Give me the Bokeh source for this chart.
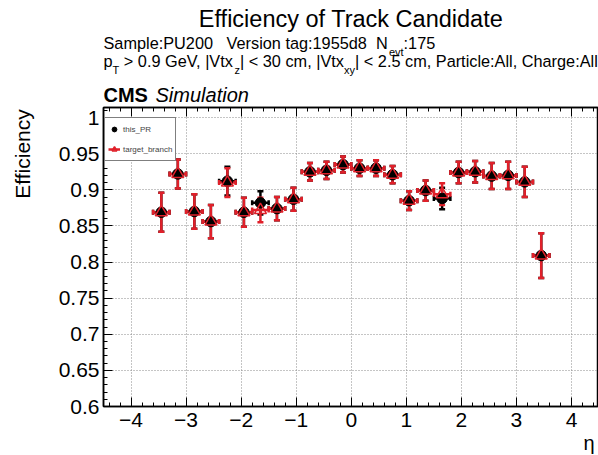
import math
from bokeh.plotting import figure
from bokeh.layouts import column, row
from bokeh.models import (Range1d, FixedTicker, CustomJSTickFormatter, LinearAxis,
                          Label, Legend, LegendItem, ColumnDataSource, Title)
from bokeh.embed import file_html
from bokeh.resources import INLINE

# ---------------- data ----------------
eta = [-3.45, -3.15, -2.85, -2.55, -2.25, -1.95, -1.65, -1.35, -1.05, -0.75, -0.45, -0.15,
       0.15, 0.45, 0.75, 1.05, 1.35, 1.65, 1.95, 2.25, 2.55, 2.85, 3.15, 3.45]
eta_half_bin = 0.15
this_pr_eff = [0.869, 0.922, 0.870, 0.856, 0.912, 0.869, 0.882, 0.874, 0.887, 0.925, 0.927, 0.935,
               0.930, 0.930, 0.921, 0.885, 0.899, 0.888, 0.924, 0.925, 0.919, 0.920, 0.911, 0.809]
this_pr_err = [0.027, 0.020, 0.024, 0.023, 0.020, 0.020, 0.016, 0.016, 0.016, 0.012, 0.012, 0.011,
               0.011, 0.011, 0.012, 0.013, 0.014, 0.015, 0.015, 0.015, 0.018, 0.019, 0.021, 0.031]
target_eff = [0.869, 0.922, 0.870, 0.856, 0.910, 0.869, 0.872, 0.874, 0.887, 0.925, 0.927, 0.935,
              0.930, 0.930, 0.921, 0.885, 0.899, 0.894, 0.924, 0.925, 0.919, 0.920, 0.911, 0.809]
target_err = [0.027, 0.020, 0.024, 0.023, 0.020, 0.020, 0.017, 0.016, 0.016, 0.012, 0.012, 0.011,
              0.011, 0.011, 0.012, 0.013, 0.014, 0.015, 0.015, 0.015, 0.018, 0.019, 0.021, 0.031]
x_tick_values = [-4, -3, -2, -1, 0, 1, 2, 3, 4]
y_tick_values = [0.6, 0.65, 0.7, 0.75, 0.8, 0.85, 0.9, 0.95, 1.0]
series_labels = ["this_PR", "target_branch"]

NB = "\u00a0"
title_text = "Efficiency of Track Candidate"
y_title = "Efficiency"
x_title = "\u03b7"

RED = "#e0202a"
FONT = "Liberation Sans"

# ---------------- layout (page pixels) ----------------
PAGE_W = 598
HEAD_H = 105            # header strip height
STRIP_W = 40            # strip holding the y title
FL, FR, FT, FB = 103, 598, 107, 406
MAIN_H = 455 - HEAD_H   # main figure reaches the page bottom
XS, XE = -4.5, 4.49
YS, YE = 0.6, 1.014
BASE_SHIFT = {"alphabetic": 0.31, "middle": 0.0}


def pixel_fig(w, h):
    f = figure(width=w, height=h, output_backend="svg", toolbar_location=None,
               x_range=Range1d(0, w), y_range=Range1d(h, 0),
               x_axis_type=None, y_axis_type=None,
               min_border=0, min_border_left=0, min_border_right=0,
               min_border_top=0, min_border_bottom=0)
    f.grid.visible = False
    f.outline_line_color = None
    f.background_fill_color = "white"
    f.border_fill_color = "white"
    return f


def put(f, px, py, text, size, style="normal", align="left", baseline="alphabetic", angle=0.0):
    sh = BASE_SHIFT[baseline] * size
    if angle == 0.0:
        py = py - sh
    f.add_layout(Label(x=px, y=py, text=text, text_font=FONT, text_font_size=f"{size}px",
                       text_font_style=style, text_align=align, text_baseline=baseline,
                       angle=angle, text_color="black"))


# ---------------- header ----------------
AW = {' ': 278, NB: 278, '|': 260, ':': 278, ',': 278, '.': 278, '<': 584, '>': 584, '_': 556,
      'A': 667, 'B': 667, 'C': 722, 'D': 722, 'E': 667, 'F': 611, 'G': 778, 'H': 722, 'I': 278,
      'M': 833, 'N': 722, 'P': 667, 'S': 667, 'T': 611, 'U': 722, 'V': 667,
      'a': 556, 'b': 556, 'c': 500, 'd': 556, 'e': 556, 'f': 278, 'g': 556, 'h': 556, 'i': 222,
      'k': 500, 'l': 222, 'm': 833, 'n': 556, 'o': 556, 'p': 556, 'r': 333, 's': 500, 't': 278,
      'u': 556, 'v': 500, 'x': 500, 'y': 500, 'z': 500}


def tw(s, size):
    return sum(AW.get(c, 556) for c in s) * size / 1000.0


def rich(f, px, py, pieces, size, sub_size, sub_drop):
    x = px
    for txt, sub, gap in pieces:
        x += gap * size / 1000.0
        if sub:
            put(f, x, py + sub_drop, txt, sub_size)
            x += tw(txt, sub_size)
        else:
            put(f, x, py, txt, size)
            x += tw(txt, size)


head = pixel_fig(PAGE_W, HEAD_H)
put(head, (FL + FR) / 2, 26, title_text, 23.5, align="center")
line2 = [("Sample:PU200" + NB * 3 + "Version" + NB + "tag:1955d8" + NB * 2 + "N", False, 0),
         ("evt", True, 0), (":175", False, 0)]
line3 = [("p", False, 0), ("T", True, 0), (">" + NB + "0.9 GeV, |Vtx", False, 278), ("z", True, 0),
         ("| < 30 cm, |Vtx", False, 0), ("xy", True, 0),
         ("| < 2.5 cm, Particle:All, Charge:All", False, 0)]
rich(head, FL, 47.5, line2, 16.3, 11, 7)
rich(head, FL, 66, line3, 16.3, 11, 7)
put(head, FL, 101, "CMS", 20, style="bold")
put(head, FL + 52, 101, "Simulation", 20, style="italic")

# ---------------- y title strip ----------------
strip = pixel_fig(STRIP_W, MAIN_H)
put(strip, 22, FT - HEAD_H, y_title, 21, align="right", baseline="middle", angle=math.pi / 2)

# ---------------- main plot ----------------
p = figure(width=PAGE_W - STRIP_W, height=MAIN_H, output_backend="svg", toolbar_location=None,
           x_range=Range1d(XS, XE), y_range=Range1d(YS, YE),
           min_border_left=FL - STRIP_W, min_border_right=0, min_border_top=FT - HEAD_H,
           min_border_bottom=455 - FB)
p.background_fill_color = "white"
p.border_fill_color = "white"
p.outline_line_color = "black"
p.outline_line_width = 1.5

fmt = CustomJSTickFormatter(code="var s = parseFloat(tick.toFixed(3)).toString(); return s.replace('-', '\\u2212');")
x_minor = [round(-4.4 + 0.2 * k, 2) for k in range(45)]
y_minor = [round(0.6 + 0.01 * k, 3) for k in range(42)]
xt = FixedTicker(ticks=x_tick_values, minor_ticks=x_minor)
yt = FixedTicker(ticks=y_tick_values, minor_ticks=y_minor)

for ax, t in ((p.xaxis[0], xt), (p.yaxis[0], yt)):
    ax.ticker = t
    ax.formatter = fmt
    ax.axis_line_color = "black"
    ax.axis_line_width = 1.5
    ax.major_tick_in = 9
    ax.major_tick_out = 0
    ax.minor_tick_in = 4
    ax.minor_tick_out = 0
    ax.major_tick_line_color = "black"
    ax.minor_tick_line_color = "black"
    ax.major_label_text_font = FONT
    ax.major_label_text_font_size = "21px"
    ax.major_label_text_color = "black"
p.xaxis[0].major_label_standoff = 6
p.yaxis[0].major_label_standoff = 4

top = LinearAxis(ticker=xt, formatter=CustomJSTickFormatter(code="return '';"),
                 major_tick_in=9, major_tick_out=0, minor_tick_in=4, minor_tick_out=0,
                 major_label_standoff=0, major_label_text_font_size="0px",
                 axis_line_color="black", axis_line_width=1.5)
p.add_layout(top, "above")

# x-axis title at the right end, below the tick labels
p.add_layout(Title(text=x_title, align="right", offset=4, standoff=0,
                   text_font=FONT, text_font_size="20px", text_font_style="normal",
                   text_color="black"), "below")

p.xgrid.ticker = xt
p.ygrid.ticker = yt
for g in (p.xgrid, p.ygrid):
    g.grid_line_color = "#8a8a8a"
    g.grid_line_dash = "1 2"
    g.grid_line_width = 1


def make_src(eff, err):
    return ColumnDataSource(dict(
        x=eta, y=eff,
        lo=[e - s for e, s in zip(eff, err)], hi=[e + s for e, s in zip(eff, err)],
        xl=[x - eta_half_bin for x in eta], xr=[x + eta_half_bin for x in eta]))


s_pr = make_src(this_pr_eff, this_pr_err)
s_tb = make_src(target_eff, target_err)


def bars(src, color):
    r1 = p.segment(x0="x", y0="lo", x1="x", y1="hi", source=src, line_color=color, line_width=2.5)
    p.segment(x0="xl", y0="y", x1="xr", y1="y", source=src, line_color=color, line_width=2.5)
    p.scatter(x="x", y="hi", source=src, marker="dash", size=6, line_color=color, line_width=2.5)
    p.scatter(x="x", y="lo", source=src, marker="dash", size=6, line_color=color, line_width=2.5)
    p.scatter(x="xl", y="y", source=src, marker="dash", angle=math.pi / 2, size=5, line_color=color, line_width=2.5)
    p.scatter(x="xr", y="y", source=src, marker="dash", angle=math.pi / 2, size=5, line_color=color, line_width=2.5)
    return r1


bars(s_pr, "black")
r_tb_bar = bars(s_tb, RED)
r_pr = p.scatter(x="x", y="y", source=s_pr, marker="circle", size=10.5, fill_color="black", line_color="black")
r_tb = p.scatter(x="x", y="y", source=s_tb, marker="triangle", size=12, fill_color=None,
                 line_color=RED, line_width=1.5)

legend = Legend(items=[LegendItem(label=series_labels[0], renderers=[r_pr]),
                       LegendItem(label=series_labels[1], renderers=[r_tb_bar, r_tb])],
                location=(1, FB - 161), margin=0, padding=3, spacing=4,
                glyph_width=12, glyph_height=16, label_height=16, label_standoff=3,
                label_text_font=FONT, label_text_font_size="8px",
                border_line_color="black", border_line_width=1,
                background_fill_color="white", background_fill_alpha=1)
p.add_layout(legend, "center")

layout = column(head, row(strip, p, spacing=0), spacing=0)
open("out.html", "w").write(file_html(layout, INLINE))
